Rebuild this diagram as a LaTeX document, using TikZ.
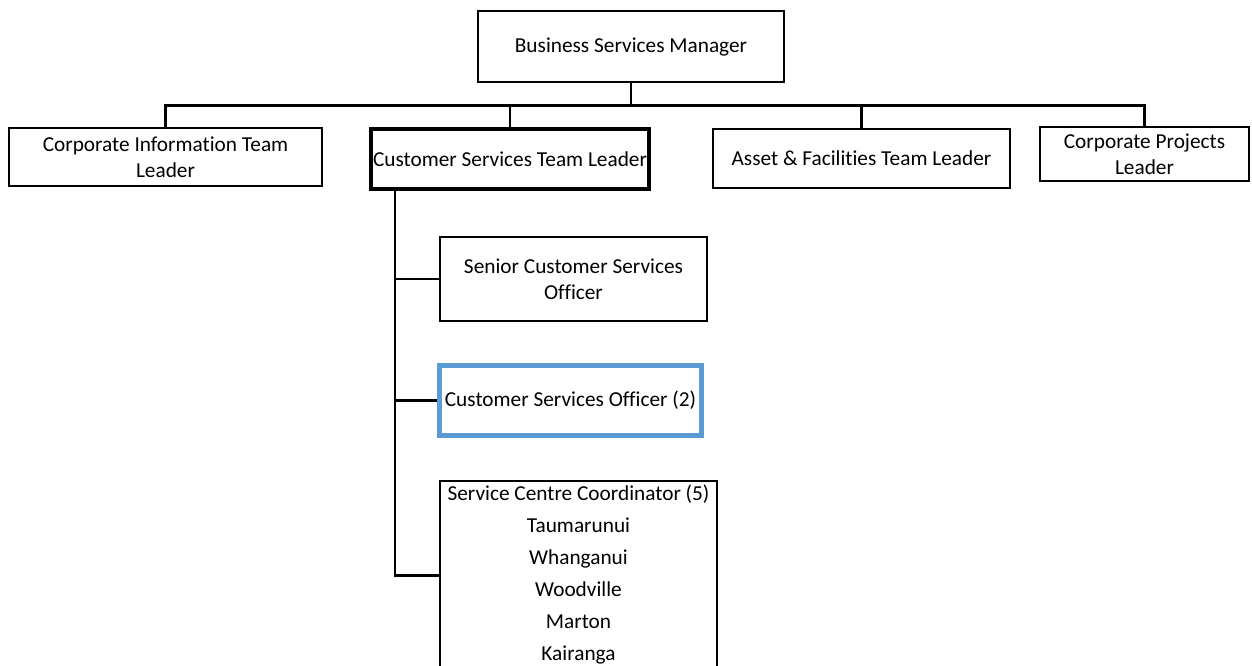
\documentclass[tikz,border=0pt]{standalone}
\usepackage{fontspec}
\setmainfont{Carlito}[Ligatures=NoCommon]
\definecolor{wordblue}{RGB}{91,155,213}
\tikzstyle{every node}=[font=\fontsize{21.3}{26}\selectfont]
\tikzstyle{box}=[draw,line width=2.5pt,inner sep=0pt,align=center]
\tikzstyle{link}=[line width=2.5pt]

\begin{document}
\begin{tikzpicture}[x=1pt,y=-1pt]
\useasboundingbox (0,0) rectangle (1252,665);
\clip (0,0) rectangle (1252,665);

% manager and team leaders
\node[box,minimum width=306,minimum height=71] (mgr) at (631,46.5) {Business Services Manager};
\node[box,minimum width=313,minimum height=58] (ci) at (165.5,157) {Corporate Information Team\\Leader};
\node[box,line width=4pt,minimum width=278,minimum height=60] (cs) at (510,159) {Customer Services Team Leader};
\node[box,minimum width=297,minimum height=59] (af) at (861.5,158.5) {Asset \& Facilities Team Leader};
\node[box,minimum width=209,minimum height=54] (cp) at (1144.5,154) {Corporate Projects\\Leader};

% customer services staff
\node[box,minimum width=267,minimum height=84] (sco) at (573.5,279) {Senior Customer Services\\Officer};
\node[box,draw=wordblue,line width=5pt,minimum width=262,minimum height=70] (cso) at (570.5,400.5) {Customer Services Officer (2)};
\node[box,minimum width=277,minimum height=189] (scc) at (578.5,575.5) {};
\foreach \place [count=\i] in {Service Centre Coordinator (5),Taumarunui,Whanganui,Woodville,Marton,Kairanga}
  \node[anchor=base,inner sep=0pt] (place\i) at (578.5,{500+32*(\i-1)}) {\place};

% connectors
\draw[link] (mgr.south) -- ++(0,22) coordinate (bus);
\foreach \n in {ci,cs,af,cp}
  \draw[link] (bus) -| (\n.north);
\coordinate (spine) at ([xshift=26pt]cs.south west);
\draw[link] (spine) |- (scc.west);
\draw[link] (sco.west) -- (spine |- sco.west);
\draw[link] (cso.west) -- (spine |- cso.west);

\end{tikzpicture}
\end{document}
